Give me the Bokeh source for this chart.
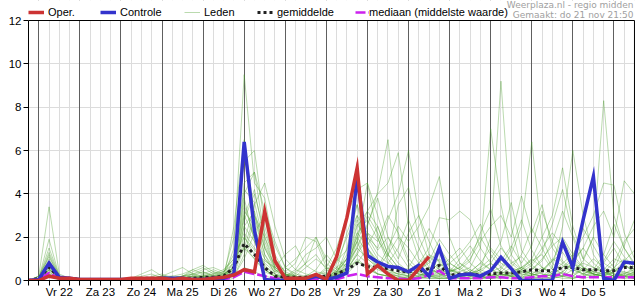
from bokeh.plotting import figure
from bokeh.models import Range1d, FixedTicker, Grid, Legend, LegendItem, Label, BoxAnnotation
from bokeh.embed import file_html
from bokeh.resources import INLINE

# time steps: 6-hourly from do 21 nov 18:00
steps = list(range(60))
day_labels = ["Vr 22", "Za 23", "Zo 24", "Ma 25", "Di 26", "Wo 27", "Do 28",
              "Vr 29", "Za 30", "Zo 1", "Ma 2", "Di 3", "Wo 4", "Do 5"]
label_steps = [3 + 4 * k for k in range(14)]      # noon of each day
day_steps = [1 + 4 * k for k in range(15)]        # midnight of each day
y_ticks = [0, 2, 4, 6, 8, 10, 12]
y_max = 12

oper = [0, 0, .2, .1, .1, .05, .05, .05, .05, .05, .1, .1, .1, .1, .05, .1, .05, .05, .1, .15,
        .25, .5, .4, 3.2, .9, .1, .1, .1, .28, .05, 1.1, 2.9, 5.2, .3, .7, .3, 0, 0, .55, 1.1]

controle = [0, .05, .8, .15, .1, .05, .05, .05, .05, .05, .05, .05, .05, .1, .1, .1, .05, .05, .1, .1,
            .3, 6.4, 2.3, .05, 0, 0, .05, .05, .2, .05, .15, .35, 4.8, 1.15, .85, .65, .6, .4, .7, .2,
            1.5, .1, .25, .3, .2, .45, 1.07, .55, 0, 0, 0, 0, 1.77, .6, 2.8, 4.8, .1, 0, .85, .8]

gemiddelde = [0, .1, .6, .15, .1, .05, .05, .05, .05, .05, .05, .1, .1, .1, .1, .1, .1, .15, .15, .2,
              .6, 1.7, 1.2, .6, .2, .15, .15, .15, .2, .2, .3, .5, .8, .65, .6, .55, .45, .4, .4, .55,
              .7, .25, .3, .3, .25, .3, .35, .35, .4, .5, .45, .45, .6, .6, .5, .5, .45, .45, .6, .6]

mediaan = [0, .05, .35, .1, .05, .05, .05, .05, .05, .05, .05, .1, .1, .1, .1, .05, .05, .05, .05, .05,
           .15, .4, .3, .2, .1, .05, .05, .05, .05, .05, .05, .2, .3, .2, .15, .1, .1, .05, .1, .25,
           .45, .1, .1, .1, .1, .15, .15, .1, .1, .15, .2, .2, .3, .2, .15, .15, .15, .15, .15, .15]

leden = [
    [0, .2, 3.4, .3, .1, 0, 0, 0, 0, 0, 0, .1, 0, 0, 0, 0, .1, 0, 0, .1,
     1.5, 9.5, 4.5, 3.8, 1.2, .3, .1, .2, .3, .1, .5, 2.2, 3.5, 1.0, .6, .3, .2, .1, .4, .6,
     .3, .1, .2, .5, .3, .2, .1, .4, .6, .9, 1.2, .5, .3, .2, .6, .4, .3, .5, .2, .1],
    [0, .1, 1.9, .2, 0, 0, 0, .1, 0, 0, 0, 0, .2, .3, .1, 0, 0, .2, .4, .3,
     2.0, 5.5, 6.0, 2.5, .8, .2, .1, .1, .2, .6, 1.5, 3.0, 4.2, 4.5, 2.0, .8, .5, .3, .2, .1,
     .1, .3, .8, .5, .2, .1, .3, .2, .1, .5, .9, 1.8, 3.2, 2.0, .6, .3, .2, .1, .4, .3],
    [0, .1, 1.5, .2, .1, 0, 0, 0, 0, 0, .1, .3, .5, .2, .1, 0, 0, 0, .1, .2,
     .5, 3.0, 2.0, 1.0, .5, .2, .4, .8, 1.2, .5, .3, .6, 1.5, 2.5, 4.1, 6.5, 2.0, .8, .4, .2,
     .1, .1, .2, .3, .5, .8, .4, .2, .1, .3, .6, .4, .2, .9, 1.5, .8, .4, .2, .1, .3],
    [0, 0, 1.2, .1, 0, 0, 0, 0, 0, 0, 0, .1, .1, 0, 0, .2, .5, .3, .1, .1,
     .3, 2.5, 3.2, 1.5, .5, .2, .1, .1, .1, .2, .4, 1.0, 1.8, .8, .3, .2, .1, .2, .5, .8,
     1.5, .6, .3, .2, .5, 2.0, 9.2, 2.5, .6, .3, .2, .1, .4, .8, .5, .3, .2, .6, 1.0, .5],
    [0, .1, 1.0, .1, 0, 0, .1, 0, 0, 0, 0, 0, .1, .2, .4, .6, .3, .1, 0, .2,
     .8, 4.5, 5.0, 2.0, .6, .3, .2, .1, .1, .1, .3, .8, 2.5, 3.2, 4.0, 4.5, 5.9, 2.5, 1.0, .5,
     .3, .2, .1, .1, .2, .4, .6, .3, .2, .1, .1, .3, .6, .9, .5, .3, .8, 1.5, .7, .4],
    [0, .1, .8, .1, .1, 0, 0, 0, 0, 0, 0, 0, 0, .1, .2, .3, .5, .7, .4, .2,
     .4, 1.8, 3.5, 4.5, 2.5, 1.0, .5, .3, .2, .1, .2, .5, 1.2, 2.0, 1.5, 2.8, 4.0, 6.0, 3.0, 1.2,
     .5, .3, .2, .4, .8, .5, .3, .2, .5, 1.0, .6, .3, .2, .1, .3, .5, .4, .2, .3, .6],
    [0, .2, .6, .1, 0, 0, 0, 0, 0, .1, 0, 0, 0, 0, .1, .2, .4, .6, .3, .5,
     1.0, 2.2, 1.5, .8, .4, .6, 1.0, 1.5, 2.0, .8, .4, 1.2, 2.8, 1.5, .6, 1.5, 2.5, 1.8, 2.5, 3.4,
     4.8, 2.0, .8, .4, .2, .1, .3, .6, 1.2, 2.4, 1.5, .6, .3, .2, .1, .2, .4, .3, .2, .1],
    [0, .1, .4, 0, 0, 0, 0, 0, 0, 0, 0, 0, 0, 0, 0, .1, .2, .1, 0, .1,
     .2, 1.2, 2.8, 1.2, .3, .1, .1, .2, .5, 1.2, .6, .3, .8, 1.5, .9, .4, .2, .1, .1, .3,
     .6, 1.0, 1.5, .8, .4, .2, .5, 1.2, 2.5, 6.4, 2.0, .8, .4, .2, .5, 1.0, .6, .3, .2, .4],
    [0, 0, .5, .1, 0, 0, 0, 0, 0, 0, .1, .2, .3, .1, 0, 0, 0, .1, .2, .3,
     .6, 3.5, 2.0, .5, .2, .1, .1, .1, .1, .2, .3, 1.5, 3.5, 2.0, 1.2, .8, 1.5, 2.8, 1.5, .6,
     .3, .2, .1, .2, .4, .8, 1.5, .9, .5, .3, .2, .6, 2.5, 6.0, 3.0, 1.2, .5, .3, .2, .1],
    [0, .1, .3, .1, 0, 0, 0, 0, 0, 0, 0, 0, .1, .2, .1, 0, 0, 0, .1, .1,
     .3, 5.8, 3.0, 1.2, .5, .2, .1, .1, .2, .1, .1, .4, 1.0, .6, .3, .2, .1, .1, .2, .4,
     .8, .5, .3, .2, .1, .1, .2, .3, .6, 1.0, 2.0, 3.0, 5.2, 2.5, 1.0, 2.0, 8.3, 3.0, 1.5, .8],
    [0, .1, .7, .2, .1, 0, 0, 0, 0, 0, 0, 0, 0, 0, .1, .1, .2, .4, .2, .1,
     .5, 4.0, 5.0, 3.2, 1.8, .6, .3, .2, .1, .1, .2, .6, 1.8, 4.5, 3.0, 1.5, .8, .4, .3, .2,
     .1, .1, .2, .4, .8, 1.5, 1.0, .6, .4, .3, .2, .4, .8, 1.2, 2.0, 3.0, 4.5, 4.4, 2.2, 1.0],
    [0, .1, .5, .1, 0, 0, 0, 0, 0, 0, 0, 0, 0, .1, .1, 0, .1, .3, .5, .3,
     .6, 3.8, 1.8, .6, .3, .1, .1, .1, .2, .4, .8, 2.0, 3.0, 1.5, .8, .5, .3, .2, .1, .2,
     .4, .8, .5, .3, .2, .1, .2, .4, .6, .4, .3, .2, .4, .8, 1.5, 2.5, 3.2, 2.0, 4.6, 4.0],
    [0, .1, .9, .1, 0, 0, 0, 0, 0, 0, 0, 0, 0, 0, 0, .1, .2, .2, .1, .1,
     .4, 2.8, 4.0, 2.2, 1.0, .4, .2, .1, .1, .1, .2, .5, 1.2, .8, .5, .3, .2, .4, .8, 1.2,
     .9, .5, .4, .6, 1.5, 7.0, 3.5, 1.2, .5, .3, .2, .1, .2, .5, .8, .6, .4, .2, .3, .5],
    [0, .2, 1.1, .2, .1, 0, 0, 0, 0, 0, 0, 0, .1, .1, 0, 0, .1, .2, .3, .2,
     .9, 3.2, 2.5, 1.0, .4, .2, .3, .8, 2.0, 1.0, .5, .8, 1.5, 1.0, .6, 1.2, 2.0, 1.5, .8, 1.5,
     2.9, 2.8, 3.2, 2.8, 1.5, .8, .4, .3, .5, .8, 1.5, 2.2, 1.6, .8, .4, .3, .2, .4, .9, 1.4],
    [0, 0, .4, .1, 0, 0, 0, 0, 0, 0, 0, 0, 0, 0, 0, 0, .1, .1, .2, .4,
     1.2, 2.0, 1.2, .5, .2, .1, .1, .1, .1, .3, .6, 1.0, 2.0, 3.2, 2.5, 1.2, .6, .4, .3, .2,
     .2, .4, .6, 1.0, 1.8, 2.5, 3.0, 2.0, 3.9, 2.2, 3.5, 1.5, .8, .5, .3, .2, .3, .5, .4, .2],
    [0, .1, .6, .1, 0, 0, 0, 0, 0, 0, 0, 0, 0, 0, 0, 0, 0, .1, .1, .2,
     .3, 1.5, 1.0, .5, .2, .1, .1, .1, .1, .1, .2, .8, 1.8, 3.0, 2.2, 1.0, .4, .2, .1, .1,
     .1, .1, .2, .1, .1, .2, .3, .2, .1, .1, .2, .3, .2, .1, .2, .4, .3, .2, .1, .1],
    [0, .1, .3, 0, 0, 0, 0, 0, 0, 0, 0, 0, 0, 0, 0, 0, .1, .1, 0, 0,
     .1, .6, .4, .2, .1, .1, 0, 0, .1, .2, .3, .6, .9, .5, .3, .2, .1, .1, .2, .5,
     1.0, .5, .2, .1, .1, .2, .4, .8, 1.1, .6, .3, .2, .1, .1, .2, .3, .2, .1, .2, .4],
    [0, .1, .7, .1, 0, 0, 0, 0, 0, 0, 0, 0, 0, .1, .1, .2, .3, .2, .1, .1,
     .7, 2.0, 1.4, .9, .6, 1.2, 1.6, .7, .4, .3, .2, .5, 1.3, 2.2, 1.8, 3.0, 2.2, 1.0, .5, .3,
     .2, .1, .1, .3, .5, .3, .2, .1, .2, .5, 1.0, 1.6, 2.0, 1.2, .6, .4, .9, 1.8, 1.1, .6],
    [0, .1, .9, .1, 0, 0, 0, 0, 0, 0, 0, 0, 0, 0, 0, .1, .1, 0, 0, .1,
     2.5, 6.5, 3.0, 1.5, .6, .2, .1, .1, .1, .1, .2, .4, .9, .6, .3, .2, .1, .1, .1, .2,
     .3, .5, .3, .2, .1, .1, .1, .2, .3, .2, .1, .1, .2, .3, .5, .3, .2, .1, .2, .3],
    [0, .1, .5, .2, .1, .1, 0, 0, 0, 0, 0, 0, 0, 0, .1, .2, .3, .5, .6, .4,
     .8, 1.5, 3.0, 2.0, .9, .4, .8, 2.0, 1.8, .6, .4, .5, 2.2, 1.6, 2.5, 1.2, .6, .3, .2, .3,
     .5, .8, 1.2, 1.8, 2.6, 1.4, .8, .5, .3, .2, .5, .9, 1.3, .6, .3, .2, .5, 1.0, .8, .3],
    [0, .1, .8, .2, 0, 0, 0, 0, 0, 0, 0, 0, 0, 0, .1, .2, .2, .1, .1, .2,
     .6, 2.5, 1.8, .7, .3, .2, .5, 1.2, 1.5, 2.0, 1.0, .6, 1.6, 2.6, 3.8, 2.0, 1.0, 2.2, 3.0, 1.8,
     .8, .4, .6, 1.2, 2.0, 1.2, .6, 1.5, 2.8, 1.4, .6, .3, .6, 1.1, 2.4, 1.6, .8, .5, 1.6, 2.8],
    [0, .1, 1.3, .2, .1, 0, 0, 0, 0, 0, 0, 0, .1, .2, .2, .1, 0, .1, .3, .4,
     1.0, 4.2, 3.6, 1.6, .7, .3, .2, .1, .1, .2, .4, 1.0, 2.2, 2.8, 1.9, 1.1, 3.5, 4.3, 2.0, .9,
     .5, .3, .2, .3, .6, 1.0, 1.8, 3.6, 1.4, .7, .4, .9, 1.9, 1.0, .6, .3, .2, .4, .7, .5],
    [0, .1, .6, .1, 0, 0, 0, 0, 0, 0, 0, 0, 0, 0, 0, .1, .3, .4, .2, .1,
     .2, 1.0, 2.2, 3.0, 1.6, .6, .2, .1, .1, .1, .2, .7, 2.0, 1.2, .6, .4, .3, .6, 1.4, 2.4,
     1.5, .8, .5, .9, 2.2, 3.3, 1.6, .8, .4, .2, .4, 1.0, .7, .4, .9, 2.0, 1.2, .6, .3, .2],
    [0, 0, .5, .1, 0, 0, 0, 0, 0, 0, 0, 0, 0, 0, 0, 0, .1, .2, .2, .3,
     .5, 1.6, 1.0, .4, .2, .1, .2, .6, 1.0, .6, .3, 1.0, 2.6, 1.8, 1.0, .5, .3, .2, .4, .9,
     1.9, 1.2, .6, .3, .2, .4, .9, 1.6, .8, 1.6, 3.2, 1.8, .9, .5, .3, .5, 1.2, 2.6, 1.5, .7],
    [0, .1, .8, .1, 0, 0, 0, 0, 0, 0, 0, .1, .1, 0, 0, 0, 0, .1, .2, .2,
     .6, 3.0, 4.2, 1.8, .6, .3, .1, .1, .2, .5, .9, 1.4, 3.0, 2.2, 1.4, 2.0, 1.3, .6, .3, .2,
     .2, .4, 1.0, 1.6, .9, .5, .3, .2, .4, .7, 1.3, 2.6, 4.2, 2.1, 1.0, .6, .4, .8, 1.8, 2.4],
]

FONT = "Liberation Sans"

# frame covers canvas rows 0..280; the value 12 sits at row 20
p = figure(width=635, height=300, x_range=Range1d(0, 59.1), y_range=Range1d(0, y_max * 280 / 260),
           output_backend="svg", toolbar_location=None,
           min_border_left=28, min_border_right=0, min_border_top=0, min_border_bottom=20)
p.background_fill_color = "white"
p.border_fill_color = "white"
p.outline_line_color = None

# grids
p.xgrid.ticker = FixedTicker(ticks=steps)
p.xgrid.grid_line_color = "#dcdcdc"
p.ygrid.ticker = FixedTicker(ticks=y_ticks)
p.ygrid.grid_line_color = "#dcdcdc"
p.add_layout(Grid(dimension=0, ticker=FixedTicker(ticks=day_steps), grid_line_color="#606060"))
# blank band above the chart area (legend strip)
p.add_layout(BoxAnnotation(bottom=y_max, fill_color="white", fill_alpha=1, line_alpha=0, level="underlay"))

# axes
p.xaxis.ticker = FixedTicker(ticks=steps)
overrides = {s: "" for s in steps}
for s, lab in zip(label_steps, day_labels):
    overrides[s] = lab
p.xaxis.major_label_overrides = overrides
p.xaxis.major_tick_out = 5
p.xaxis.major_tick_in = 0
p.xaxis.minor_tick_line_color = None
p.xaxis.major_label_standoff = 0
p.yaxis.ticker = FixedTicker(ticks=y_ticks)
p.yaxis.bounds = (0, y_max)
p.yaxis.major_tick_out = 5
p.yaxis.major_tick_in = 0
p.yaxis.minor_tick_line_color = None
p.yaxis.major_label_standoff = 2
for ax in (p.xaxis, p.yaxis):
    ax.axis_line_color = "black"
    ax.major_tick_line_color = "black"
    ax.major_label_text_font = FONT
    ax.major_label_text_font_size = "11.5px"
    ax.major_label_text_color = "black"

# ensemble members
led_renderers = []
for m in leden:
    r = p.line(steps, m, line_color="#4a9e2a", line_alpha=0.38, line_width=1)
    led_renderers.append(r)

r_med = p.line(steps, mediaan, line_color="#cc22ee", line_width=2.5, line_dash="10 3")
r_gem = p.line(steps, gemiddelde, line_color="#222222", line_width=3, line_dash="3 3")
r_con = p.line(steps, controle, line_color="#3333cc", line_width=3.5, line_join="miter")
r_op = p.line(steps[:len(oper)], oper, line_color="#cc3333", line_width=3.5, line_join="miter")

# chart border: top and right
p.line([steps[0], steps[-1], steps[-1]], [y_max, y_max, 0], line_color="black", line_width=1)

# legend strip: one entry per legend so each sits where the reference has it
entries = [("Oper.", r_op, 0, 16, 4), ("Controle", r_con, 72, 16, 4), ("Leden", led_renderers[0], 156, 16, 4),
           ("gemiddelde", r_gem, 229, 16, 4), ("mediaan (middelste waarde)", r_med, 327, 14, 0)]
for lab, rend, lx, gw, so in entries:
    p.add_layout(Legend(items=[LegendItem(label=lab, renderers=[rend])], orientation="horizontal",
                        location=(lx, 261), padding=0, margin=0, spacing=0,
                        glyph_width=gw, glyph_height=14, label_height=14, label_standoff=so,
                        label_text_font=FONT, label_text_font_size="11px", label_text_color="black",
                        background_fill_alpha=0, border_line_alpha=0))

p.add_layout(Label(x=605, y=275.5, x_units="screen", y_units="screen", text="Weerplaza.nl - regio midden",
                   text_align="right", text_baseline="middle", text_font="DejaVu Sans",
                   text_font_size="9px", text_color="#a0a0a0"))
p.add_layout(Label(x=605, y=266, x_units="screen", y_units="screen", text="Gemaakt: do 21 nov 21:50",
                   text_align="right", text_baseline="middle", text_font="DejaVu Sans",
                   text_font_size="9px", text_color="#a0a0a0"))

open("out.html", "w").write(file_html(p, INLINE))
